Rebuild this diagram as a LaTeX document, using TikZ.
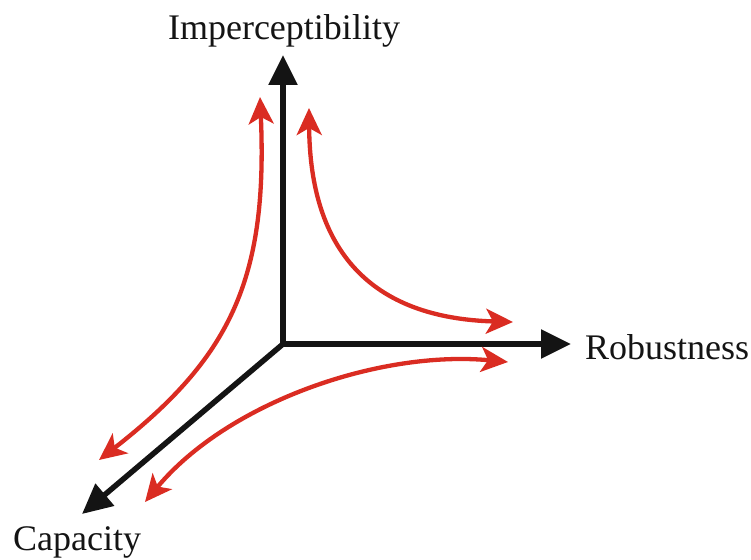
\documentclass[tikz,border=0pt]{standalone}
\usepackage{fontspec}
\setmainfont{Liberation Serif}
\usetikzlibrary{arrows.meta}
\definecolor{arrred}{RGB}{218,44,34}
\definecolor{axblack}{RGB}{20,20,20}
\begin{document}
\begin{tikzpicture}[x=1pt,y=-1pt,
  axisline/.style={draw=axblack,line width=5.5pt,-{Triangle[length=30pt,width=28pt]}},
  tradeoff/.style={draw=arrred,line width=4.3pt,{Stealth[length=27pt,width=25pt,inset=7pt]}-{Stealth[length=27pt,width=25pt,inset=7pt]}},
  axlabel/.style={font=\fontsize{36}{40}\selectfont,text=axblack,inner sep=0pt}]
\useasboundingbox (0,0) rectangle (751,559);
\coordinate (O) at (283,344);
\coordinate (Itip) at (283,55);
\coordinate (Rtip) at (571,344);
\coordinate (Ctip) at (82,514);
\draw[axisline] (O) -- (Itip);
\draw[axisline] (O) -- (Rtip);
\draw[axisline] (O) -- (Ctip);
\fill[axblack] (O) ++(-2.75,-2.75) rectangle ++(5.5,5.5);
\node[axlabel,anchor=base] (imp) at (284,40) {Imperceptibility};
\node[axlabel,anchor=base west] (rob) at (585,359) {Robustness};
\node[axlabel,anchor=base west] (cap) at (13,550) {Capacity};
\coordinate (a1) at (260,97);
\coordinate (a2) at (99,460);
\coordinate (b1) at (309,108);
\coordinate (b2) at (513,322);
\coordinate (c1) at (508,362);
\coordinate (c2) at (145,502);
\draw[tradeoff] (a1) .. controls (268,280) and (230,358) .. (a2);
\draw[tradeoff] (b1) .. controls (310,250) and (370,318) .. (b2);
\draw[tradeoff] (c1) .. controls (380,350) and (228,402) .. (c2);
\end{tikzpicture}
\end{document}
